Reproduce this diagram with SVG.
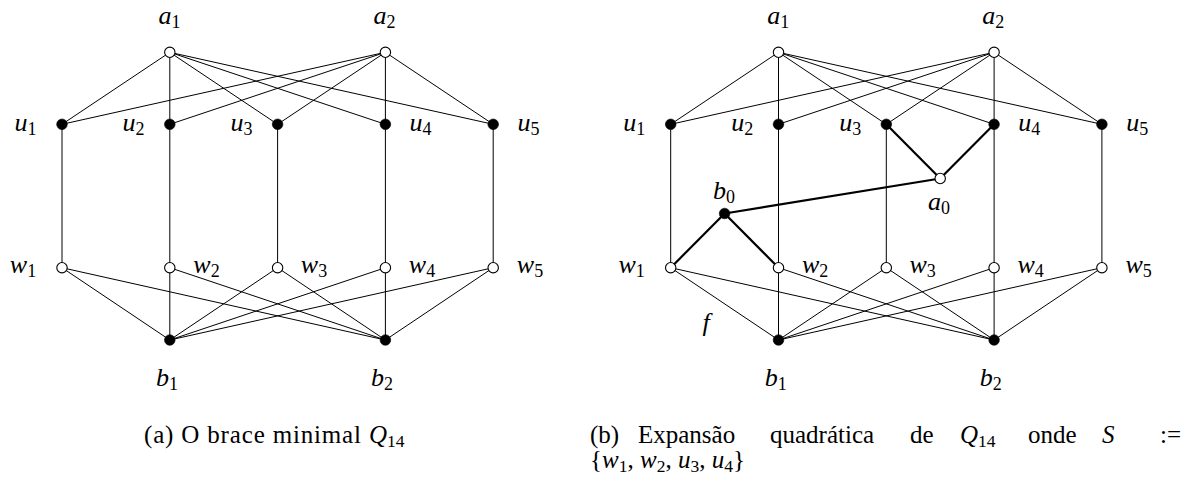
<svg xmlns="http://www.w3.org/2000/svg" width="1199" height="488" viewBox="0 0 1199 488">
<style>
.e{stroke:#000;stroke-width:1;fill:none}
.t{stroke:#000;stroke-width:2.2;fill:none}
.o{fill:#fff;stroke:#000;stroke-width:1.1}
.f{fill:#000;stroke:#000;stroke-width:0.6}
.m{font-size:26px;font-style:italic;fill:#000;text-anchor:middle}
.s{font-style:normal;font-size:18px}
.c{font-size:25px;fill:#000}
.ci{font-style:italic}
.cs{font-style:normal;font-size:17.5px}
</style>
<rect width="1199" height="488" fill="#fff"/>
<g font-family="'Liberation Serif', 'Times New Roman', serif">
<g id="connectors">
  <!-- left graph -->
  <line class="e" x1="169.8" y1="52.3" x2="62" y2="124.3"/>
  <line class="e" x1="169.8" y1="52.3" x2="169.8" y2="124.3"/>
  <line class="e" x1="169.8" y1="52.3" x2="277.6" y2="124.3"/>
  <line class="e" x1="169.8" y1="52.3" x2="385.4" y2="124.3"/>
  <line class="e" x1="169.8" y1="52.3" x2="493.2" y2="124.3"/>
  <line class="e" x1="385.4" y1="52.3" x2="62" y2="124.3"/>
  <line class="e" x1="385.4" y1="52.3" x2="169.8" y2="124.3"/>
  <line class="e" x1="385.4" y1="52.3" x2="277.6" y2="124.3"/>
  <line class="e" x1="385.4" y1="52.3" x2="385.4" y2="124.3"/>
  <line class="e" x1="385.4" y1="52.3" x2="493.2" y2="124.3"/>
  <line class="e" x1="62" y1="124.3" x2="62" y2="267.7"/>
  <line class="e" x1="169.8" y1="124.3" x2="169.8" y2="267.7"/>
  <line class="e" x1="277.6" y1="124.3" x2="277.6" y2="267.7"/>
  <line class="e" x1="385.4" y1="124.3" x2="385.4" y2="267.7"/>
  <line class="e" x1="493.2" y1="124.3" x2="493.2" y2="267.7"/>
  <line class="e" x1="169.8" y1="340" x2="62" y2="267.7"/>
  <line class="e" x1="169.8" y1="340" x2="169.8" y2="267.7"/>
  <line class="e" x1="169.8" y1="340" x2="277.6" y2="267.7"/>
  <line class="e" x1="169.8" y1="340" x2="385.4" y2="267.7"/>
  <line class="e" x1="169.8" y1="340" x2="493.2" y2="267.7"/>
  <line class="e" x1="385.4" y1="340" x2="62" y2="267.7"/>
  <line class="e" x1="385.4" y1="340" x2="169.8" y2="267.7"/>
  <line class="e" x1="385.4" y1="340" x2="277.6" y2="267.7"/>
  <line class="e" x1="385.4" y1="340" x2="385.4" y2="267.7"/>
  <line class="e" x1="385.4" y1="340" x2="493.2" y2="267.7"/>
  <!-- right graph -->
  <line class="e" x1="778.5" y1="52.3" x2="670.7" y2="124.3"/>
  <line class="e" x1="778.5" y1="52.3" x2="778.5" y2="124.3"/>
  <line class="e" x1="778.5" y1="52.3" x2="886.3" y2="124.3"/>
  <line class="e" x1="778.5" y1="52.3" x2="994.1" y2="124.3"/>
  <line class="e" x1="778.5" y1="52.3" x2="1101.9" y2="124.3"/>
  <line class="e" x1="994.1" y1="52.3" x2="670.7" y2="124.3"/>
  <line class="e" x1="994.1" y1="52.3" x2="778.5" y2="124.3"/>
  <line class="e" x1="994.1" y1="52.3" x2="886.3" y2="124.3"/>
  <line class="e" x1="994.1" y1="52.3" x2="994.1" y2="124.3"/>
  <line class="e" x1="994.1" y1="52.3" x2="1101.9" y2="124.3"/>
  <line class="e" x1="670.7" y1="124.3" x2="670.7" y2="267.7"/>
  <line class="e" x1="778.5" y1="124.3" x2="778.5" y2="267.7"/>
  <line class="e" x1="886.3" y1="124.3" x2="886.3" y2="267.7"/>
  <line class="e" x1="994.1" y1="124.3" x2="994.1" y2="267.7"/>
  <line class="e" x1="1101.9" y1="124.3" x2="1101.9" y2="267.7"/>
  <line class="e" x1="778.5" y1="340" x2="670.7" y2="267.7"/>
  <line class="e" x1="778.5" y1="340" x2="778.5" y2="267.7"/>
  <line class="e" x1="778.5" y1="340" x2="886.3" y2="267.7"/>
  <line class="e" x1="778.5" y1="340" x2="994.1" y2="267.7"/>
  <line class="e" x1="778.5" y1="340" x2="1101.9" y2="267.7"/>
  <line class="e" x1="994.1" y1="340" x2="670.7" y2="267.7"/>
  <line class="e" x1="994.1" y1="340" x2="778.5" y2="267.7"/>
  <line class="e" x1="994.1" y1="340" x2="886.3" y2="267.7"/>
  <line class="e" x1="994.1" y1="340" x2="994.1" y2="267.7"/>
  <line class="e" x1="994.1" y1="340" x2="1101.9" y2="267.7"/>
  <line class="t" x1="724.6" y1="213.5" x2="670.7" y2="267.7"/>
  <line class="t" x1="724.6" y1="213.5" x2="778.5" y2="267.7"/>
  <line class="t" x1="724.6" y1="213.5" x2="940.2" y2="178.5"/>
  <line class="t" x1="940.2" y1="178.5" x2="886.3" y2="124.3"/>
  <line class="t" x1="940.2" y1="178.5" x2="994.1" y2="124.3"/>
  <text class="m" x="706" y="331">f</text>
</g>
<!-- left graph nodes -->
<g id="L-a1"><circle class="o" cx="169.8" cy="52.3" r="5.2"/><text class="m" x="169.5" y="24">a<tspan class="s" dy="3.5">1</tspan></text></g>
<g id="L-a2"><circle class="o" cx="385.4" cy="52.3" r="5.2"/><text class="m" x="384.5" y="24">a<tspan class="s" dy="3.5">2</tspan></text></g>
<g id="L-u1"><circle class="f" cx="62" cy="124.3" r="5.3"/><text class="m" x="25.5" y="131">u<tspan class="s" dy="3.5">1</tspan></text></g>
<g id="L-u2"><circle class="f" cx="169.8" cy="124.3" r="5.3"/><text class="m" x="133.5" y="131">u<tspan class="s" dy="3.5">2</tspan></text></g>
<g id="L-u3"><circle class="f" cx="277.6" cy="124.3" r="5.3"/><text class="m" x="241.5" y="131">u<tspan class="s" dy="3.5">3</tspan></text></g>
<g id="L-u4"><circle class="f" cx="385.4" cy="124.3" r="5.3"/><text class="m" x="420.5" y="131">u<tspan class="s" dy="3.5">4</tspan></text></g>
<g id="L-u5"><circle class="f" cx="493.2" cy="124.3" r="5.3"/><text class="m" x="528.5" y="131">u<tspan class="s" dy="3.5">5</tspan></text></g>
<g id="L-w1"><circle class="o" cx="62" cy="267.7" r="5.2"/><text class="m" x="23" y="273">w<tspan class="s" dy="3.5">1</tspan></text></g>
<g id="L-w2"><circle class="o" cx="169.8" cy="267.7" r="5.2"/><text class="m" x="206.5" y="273">w<tspan class="s" dy="3.5">2</tspan></text></g>
<g id="L-w3"><circle class="o" cx="277.6" cy="267.7" r="5.2"/><text class="m" x="314" y="273">w<tspan class="s" dy="3.5">3</tspan></text></g>
<g id="L-w4"><circle class="o" cx="385.4" cy="267.7" r="5.2"/><text class="m" x="422" y="273">w<tspan class="s" dy="3.5">4</tspan></text></g>
<g id="L-w5"><circle class="o" cx="493.2" cy="267.7" r="5.2"/><text class="m" x="530" y="273">w<tspan class="s" dy="3.5">5</tspan></text></g>
<g id="L-b1"><circle class="f" cx="169.8" cy="340" r="5.3"/><text class="m" x="167" y="386">b<tspan class="s" dy="3.5">1</tspan></text></g>
<g id="L-b2"><circle class="f" cx="385.4" cy="340" r="5.3"/><text class="m" x="382" y="386">b<tspan class="s" dy="3.5">2</tspan></text></g>
<!-- right graph nodes -->
<g id="R-a1"><circle class="o" cx="778.5" cy="52.3" r="5.2"/><text class="m" x="778.2" y="24">a<tspan class="s" dy="3.5">1</tspan></text></g>
<g id="R-a2"><circle class="o" cx="994.1" cy="52.3" r="5.2"/><text class="m" x="993.2" y="24">a<tspan class="s" dy="3.5">2</tspan></text></g>
<g id="R-u1"><circle class="f" cx="670.7" cy="124.3" r="5.3"/><text class="m" x="634.2" y="131">u<tspan class="s" dy="3.5">1</tspan></text></g>
<g id="R-u2"><circle class="f" cx="778.5" cy="124.3" r="5.3"/><text class="m" x="742.2" y="131">u<tspan class="s" dy="3.5">2</tspan></text></g>
<g id="R-u3"><circle class="f" cx="886.3" cy="124.3" r="5.3"/><text class="m" x="850.2" y="131">u<tspan class="s" dy="3.5">3</tspan></text></g>
<g id="R-u4"><circle class="f" cx="994.1" cy="124.3" r="5.3"/><text class="m" x="1029.2" y="131">u<tspan class="s" dy="3.5">4</tspan></text></g>
<g id="R-u5"><circle class="f" cx="1101.9" cy="124.3" r="5.3"/><text class="m" x="1137.2" y="131">u<tspan class="s" dy="3.5">5</tspan></text></g>
<g id="R-w1"><circle class="o" cx="670.7" cy="267.7" r="5.2"/><text class="m" x="631.7" y="273">w<tspan class="s" dy="3.5">1</tspan></text></g>
<g id="R-w2"><circle class="o" cx="778.5" cy="267.7" r="5.2"/><text class="m" x="815.2" y="273">w<tspan class="s" dy="3.5">2</tspan></text></g>
<g id="R-w3"><circle class="o" cx="886.3" cy="267.7" r="5.2"/><text class="m" x="922.7" y="273">w<tspan class="s" dy="3.5">3</tspan></text></g>
<g id="R-w4"><circle class="o" cx="994.1" cy="267.7" r="5.2"/><text class="m" x="1030.7" y="273">w<tspan class="s" dy="3.5">4</tspan></text></g>
<g id="R-w5"><circle class="o" cx="1101.9" cy="267.7" r="5.2"/><text class="m" x="1138.7" y="273">w<tspan class="s" dy="3.5">5</tspan></text></g>
<g id="R-b1"><circle class="f" cx="778.5" cy="340" r="5.3"/><text class="m" x="775.7" y="386">b<tspan class="s" dy="3.5">1</tspan></text></g>
<g id="R-b2"><circle class="f" cx="994.1" cy="340" r="5.3"/><text class="m" x="990.7" y="386">b<tspan class="s" dy="3.5">2</tspan></text></g>
<g id="R-b0"><circle class="f" cx="724.6" cy="213.5" r="5.3"/><text class="m" x="724" y="199">b<tspan class="s" dy="3.5">0</tspan></text></g>
<g id="R-a0"><circle class="o" cx="940.2" cy="178.5" r="5.2"/><text class="m" x="939" y="210">a<tspan class="s" dy="3.5">0</tspan></text></g>
<!-- captions -->
<g id="caption-a">
  <text class="c" x="144" y="443" textLength="217" lengthAdjust="spacing">(a) O brace minimal</text>
  <text class="c" x="369" y="443"><tspan class="ci">Q</tspan><tspan class="cs" dy="3.5">14</tspan></text>
</g>
<g id="caption-b">
  <text class="c" x="590" y="443">(b)</text>
  <text class="c" x="638" y="443">Expansão</text>
  <text class="c" x="770" y="443">quadrática</text>
  <text class="c" x="910" y="443">de</text>
  <text class="c" x="960" y="443"><tspan class="ci">Q</tspan><tspan class="cs" dy="3.5">14</tspan></text>
  <text class="c" x="1028" y="443">onde</text>
  <text class="c ci" x="1102" y="443">S</text>
  <text class="c" x="1160" y="443">:=</text>
  <text class="c" x="590" y="468">{<tspan class="ci">w</tspan><tspan class="cs" dy="3.5">1</tspan><tspan dy="-3.5">, </tspan><tspan class="ci">w</tspan><tspan class="cs" dy="3.5">2</tspan><tspan dy="-3.5">, </tspan><tspan class="ci">u</tspan><tspan class="cs" dy="3.5">3</tspan><tspan dy="-3.5">, </tspan><tspan class="ci">u</tspan><tspan class="cs" dy="3.5">4</tspan><tspan dy="-3.5">}</tspan></text>
</g>
</g>
</svg>
